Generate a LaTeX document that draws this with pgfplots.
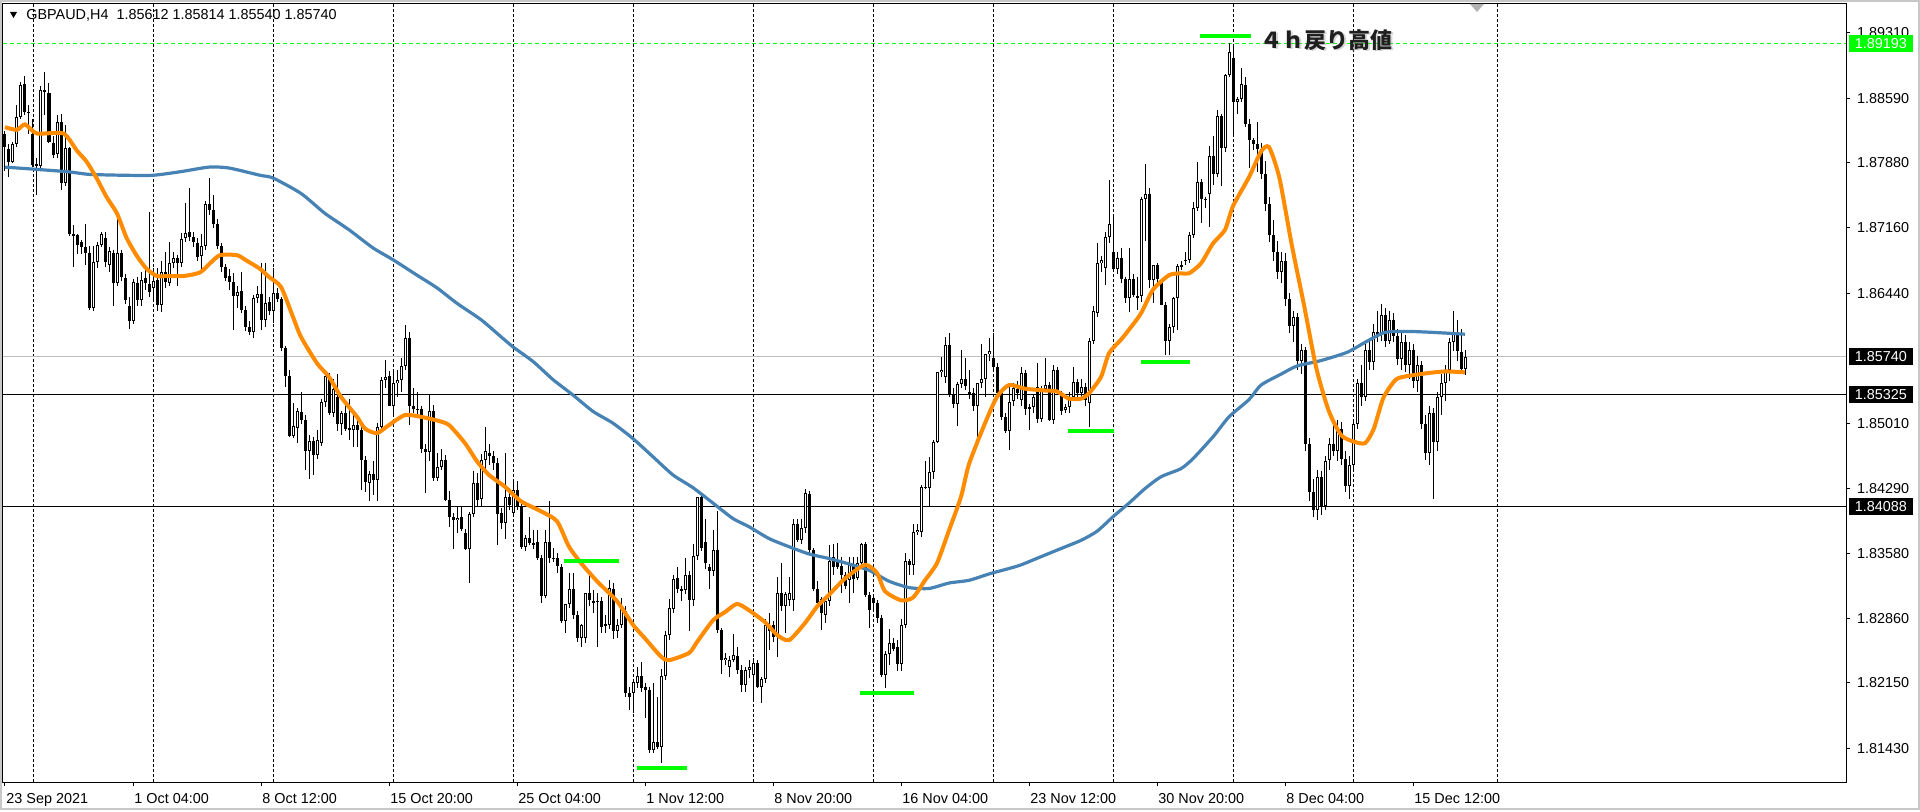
\documentclass[border=0pt]{standalone}
\usepackage{pgfplots}
\pgfplotsset{compat=1.18}
\usepackage{pgfplotstable}
\usepackage{fontspec}
\setmainfont{Liberation Sans}
\newfontfamily\cjk{Noto Sans CJK JP}
\definecolor{maorange}{HTML}{FF8C00}
\definecolor{mablue}{HTML}{4682B4}
\definecolor{mtgreen}{HTML}{00FF00}

% candles: x = bar index (4h bars), o h l c
\pgfplotstableread{
x o h l c
0 1.8820 1.8823 1.8779 1.8805
1 1.8803 1.8809 1.8772 1.8789
5 1.8874 1.8883 1.8840 1.8844
6 1.8844 1.8852 1.8819 1.8843
7 1.8820 1.8836 1.8783 1.8785
8 1.8786 1.8793 1.8752 1.8784
10 1.8868 1.8888 1.8840 1.8866
11 1.8865 1.8876 1.8809 1.8811
12 1.8810 1.8817 1.8793 1.8796
14 1.8833 1.8842 1.8758 1.8766
16 1.8804 1.8805 1.8707 1.8709
17 1.8709 1.8719 1.8673 1.8708
18 1.8708 1.8709 1.8687 1.8697
19 1.8701 1.8703 1.8687 1.8695
20 1.8695 1.8720 1.8675 1.8689
21 1.8689 1.8696 1.8626 1.8628
25 1.8705 1.8712 1.8673 1.8679
27 1.8688 1.8692 1.8630 1.8656
29 1.8688 1.8692 1.8658 1.8662
30 1.8661 1.8665 1.8632 1.8637
31 1.8630 1.8640 1.8605 1.8614
33 1.8656 1.8662 1.8630 1.8637
35 1.8661 1.8672 1.8648 1.8655
36 1.8654 1.8734 1.8640 1.8646
38 1.8659 1.8672 1.8625 1.8631
40 1.8667 1.8690 1.8650 1.8656
43 1.8683 1.8686 1.8652 1.8678
46 1.8711 1.8760 1.8702 1.8706
47 1.8706 1.8711 1.8695 1.8701
48 1.8700 1.8705 1.8680 1.8684
51 1.8742 1.8771 1.8730 1.8736
52 1.8736 1.8752 1.8716 1.8720
53 1.8720 1.8726 1.8693 1.8696
54 1.8696 1.8699 1.8668 1.8673
55 1.8673 1.8676 1.8658 1.8661
56 1.8663 1.8671 1.8648 1.8657
57 1.8657 1.8666 1.8604 1.8641
59 1.8647 1.8668 1.8622 1.8626
60 1.8626 1.8630 1.8603 1.8607
61 1.8607 1.8613 1.8598 1.8601
64 1.8643 1.8677 1.8604 1.8615
66 1.8634 1.8640 1.8620 1.8625
68 1.8645 1.8650 1.8635 1.8638
69 1.8638 1.8640 1.8580 1.8584
70 1.8584 1.8586 1.8541 1.8553
71 1.8553 1.8560 1.8486 1.8487
74 1.8513 1.8536 1.8500 1.8505
75 1.8505 1.8510 1.8449 1.8470
77 1.8481 1.8486 1.8444 1.8466
81 1.8551 1.8556 1.8510 1.8512
83 1.8530 1.8555 1.8493 1.8500
85 1.8512 1.8524 1.8492 1.8495
86 1.8495 1.8528 1.8483 1.8495
88 1.8499 1.8507 1.8475 1.8494
89 1.8494 1.8497 1.8428 1.8461
90 1.8461 1.8465 1.8425 1.8436
92 1.8445 1.8459 1.8422 1.8439
96 1.8553 1.8558 1.8520 1.8520
101 1.8595 1.8601 1.8499 1.8520
102 1.8520 1.8540 1.8512 1.8517
103 1.8517 1.8535 1.8510 1.8516
104 1.8517 1.8520 1.8468 1.8473
105 1.8473 1.8478 1.8424 1.8469
107 1.8514 1.8521 1.8437 1.8441
110 1.8461 1.8466 1.8415 1.8417
111 1.8417 1.8426 1.8387 1.8398
112 1.8398 1.8402 1.8363 1.8394
114 1.8398 1.8409 1.8382 1.8385
115 1.8380 1.8385 1.8362 1.8362
118 1.8435 1.8446 1.8409 1.8417
121 1.8468 1.8478 1.8455 1.8465
122 1.8465 1.8471 1.8450 1.8457
123 1.8457 1.8463 1.8367 1.8401
124 1.8402 1.8408 1.8385 1.8391
126 1.8420 1.8430 1.8405 1.8411
128 1.8428 1.8437 1.8405 1.8409
129 1.8409 1.8412 1.8362 1.8365
131 1.8375 1.8398 1.8367 1.8369
132 1.8369 1.8383 1.8362 1.8368
133 1.8370 1.8383 1.8350 1.8353
134 1.8353 1.8356 1.8303 1.8311
136 1.8370 1.8415 1.8347 1.8353
137 1.8353 1.8364 1.8348 1.8352
138 1.8353 1.8358 1.8336 1.8344
139 1.8343 1.8346 1.8281 1.8283
142 1.8319 1.8336 1.8286 1.8290
143 1.8290 1.8294 1.8260 1.8264
146 1.8314 1.8335 1.8300 1.8306
147 1.8305 1.8317 1.8292 1.8304
148 1.8305 1.8314 1.8255 1.8305
149 1.8305 1.8310 1.8270 1.8277
152 1.8319 1.8325 1.8263 1.8272
155 1.8294 1.8300 1.8200 1.8204
156 1.8204 1.8210 1.8185 1.8200
159 1.8223 1.8238 1.8205 1.8209
160 1.8210 1.8215 1.8176 1.8207
161 1.8207 1.8210 1.8138 1.8141
163 1.8150 1.8200 1.8142 1.8145
168 1.8330 1.8343 1.8314 1.8318
171 1.8334 1.8338 1.8272 1.8306
174 1.8420 1.8424 1.8360 1.8364
175 1.8370 1.8395 1.8340 1.8347
176 1.8343 1.8346 1.8319 1.8338
178 1.8361 1.8404 1.8270 1.8273
179 1.8273 1.8276 1.8225 1.8240
183 1.8245 1.8255 1.8225 1.8229
184 1.8229 1.8235 1.8205 1.8213
188 1.8237 1.8240 1.8209 1.8211
191 1.8279 1.8292 1.8251 1.8272
192 1.8279 1.8283 1.8260 1.8266
194 1.8314 1.8347 1.8294 1.8300
198 1.8390 1.8396 1.8370 1.8372
201 1.8423 1.8426 1.8358 1.8361
202 1.8361 1.8364 1.8316 1.8318
203 1.8318 1.8327 1.8299 1.8303
204 1.8307 1.8310 1.8273 1.8292
207 1.8354 1.8368 1.8334 1.8343
208 1.8349 1.8369 1.8340 1.8343
209 1.8344 1.8354 1.8314 1.8334
210 1.8334 1.8337 1.8318 1.8322
212 1.8345 1.8354 1.8314 1.8329
215 1.8368 1.8370 1.8310 1.8312
216 1.8312 1.8315 1.8275 1.8295
217 1.8309 1.8312 1.8295 1.8303
218 1.8303 1.8306 1.8281 1.8287
219 1.8287 1.8290 1.8222 1.8224
222 1.8259 1.8265 1.8250 1.8253
223 1.8255 1.8262 1.8228 1.8236
226 1.8349 1.8352 1.8334 1.8345
230 1.8431 1.8459 1.8428 1.8430
236 1.8587 1.8600 1.8530 1.8533
237 1.8533 1.8540 1.8518 1.8522
240 1.8550 1.8573 1.8538 1.8542
241 1.8535 1.8560 1.8528 1.8534
242 1.8534 1.8540 1.8515 1.8520
247 1.8573 1.8600 1.8560 1.8563
248 1.8563 1.8567 1.8530 1.8534
249 1.8534 1.8537 1.8505 1.8508
250 1.8508 1.8512 1.8490 1.8492
253 1.8539 1.8548 1.8528 1.8534
255 1.8556 1.8560 1.8510 1.8517
258 1.8541 1.8567 1.8501 1.8506
261 1.8543 1.8547 1.8504 1.8505
263 1.8560 1.8563 1.8535 1.8536
264 1.8532 1.8536 1.8510 1.8514
268 1.8546 1.8550 1.8530 1.8534
270 1.8541 1.8545 1.8520 1.8527
277 1.8690 1.8732 1.8670 1.8671
279 1.8683 1.8694 1.8655 1.8660
280 1.8660 1.8662 1.8633 1.8639
282 1.8660 1.8665 1.8640 1.8642
286 1.8753 1.8760 1.8650 1.8659
288 1.8675 1.8678 1.8655 1.8660
289 1.8655 1.8660 1.8631 1.8631
290 1.8631 1.8635 1.8576 1.8591
295 1.8681 1.8690 1.8675 1.8680
299 1.8767 1.8770 1.8721 1.8748
300 1.8748 1.8750 1.8738 1.8747
302 1.8795 1.8817 1.8763 1.8776
304 1.8839 1.8842 1.8762 1.8804
307 1.8903 1.8917 1.8820 1.8855
310 1.8874 1.8882 1.8827 1.8831
311 1.8831 1.8836 1.8782 1.8813
312 1.8813 1.8815 1.8802 1.8809
313 1.8808 1.8833 1.8778 1.8803
314 1.8803 1.8810 1.8770 1.8775
315 1.8775 1.8790 1.8735 1.8742
316 1.8742 1.8750 1.8700 1.8708
317 1.8708 1.8725 1.8680 1.8690
318 1.8690 1.8702 1.8660 1.8668
320 1.8680 1.8688 1.8630 1.8638
321 1.8638 1.8645 1.8600 1.8608
323 1.8618 1.8622 1.8560 1.8570
325 1.8582 1.8585 1.8470 1.8478
326 1.8478 1.8485 1.8415 1.8425
327 1.8425 1.8440 1.8398 1.8405
329 1.8442 1.8448 1.8400 1.8410
332 1.8478 1.8500 1.8465 1.8470
334 1.8495 1.8502 1.8455 1.8462
335 1.8462 1.8470 1.8425 1.8432
339 1.8545 1.8565 1.8520 1.8530
341 1.8582 1.8595 1.8560 1.8568
343 1.8602 1.8625 1.8590 1.8598
345 1.8620 1.8628 1.8585 1.8592
347 1.8615 1.8622 1.8590 1.8597
348 1.8597 1.8605 1.8565 1.8572
350 1.8590 1.8598 1.8558 1.8565
352 1.8582 1.8588 1.8540 1.8548
354 1.8565 1.8570 1.8495 1.8500
355 1.8500 1.8510 1.8460 1.8468
357 1.8512 1.8518 1.8418 1.8480
363 1.8600 1.8615 1.8570 1.8580
364 1.8580 1.8605 1.8555 1.8561
}\bear

\pgfplotstableread{
x o h l c
2 1.8789 1.8811 1.8787 1.8808
3 1.8808 1.8851 1.8805 1.8838
4 1.8838 1.8877 1.8836 1.8874
9 1.8784 1.8872 1.8781 1.8868
13 1.8797 1.8840 1.8793 1.8833
15 1.8766 1.8829 1.8762 1.8804
22 1.8628 1.8696 1.8624 1.8679
23 1.8679 1.8701 1.8672 1.8697
24 1.8697 1.8712 1.8695 1.8709
26 1.8675 1.8695 1.8668 1.8691
28 1.8656 1.8728 1.8652 1.8688
32 1.8614 1.8660 1.8610 1.8656
34 1.8637 1.8668 1.8630 1.8659
37 1.8650 1.8672 1.8638 1.8658
39 1.8631 1.8680 1.8624 1.8667
41 1.8656 1.8700 1.8652 1.8677
42 1.8677 1.8690 1.8672 1.8683
44 1.8677 1.8710 1.8673 1.8704
45 1.8705 1.8743 1.8700 1.8711
49 1.8685 1.8709 1.8671 1.8696
50 1.8696 1.8746 1.8692 1.8742
58 1.8641 1.8652 1.8628 1.8646
62 1.8601 1.8642 1.8595 1.8639
63 1.8639 1.8652 1.8633 1.8643
65 1.8615 1.8678 1.8607 1.8634
67 1.8625 1.8672 1.8611 1.8644
72 1.8487 1.8523 1.8485 1.8498
73 1.8496 1.8518 1.8479 1.8514
76 1.8470 1.8488 1.8440 1.8481
78 1.8466 1.8493 1.8462 1.8483
79 1.8479 1.8528 1.8476 1.8524
80 1.8524 1.8556 1.8519 1.8553
82 1.8512 1.8550 1.8508 1.8539
84 1.8500 1.8515 1.8488 1.8512
87 1.8494 1.8510 1.8475 1.8499
91 1.8435 1.8448 1.8415 1.8445
93 1.8439 1.8501 1.8415 1.8497
94 1.8497 1.8552 1.8494 1.8549
95 1.8549 1.8571 1.8540 1.8552
97 1.8520 1.8557 1.8510 1.8545
98 1.8545 1.8560 1.8530 1.8549
99 1.8549 1.8573 1.8535 1.8564
100 1.8564 1.8609 1.8560 1.8595
106 1.8469 1.8532 1.8459 1.8514
108 1.8441 1.8468 1.8437 1.8453
109 1.8453 1.8473 1.8450 1.8461
113 1.8394 1.8409 1.8380 1.8397
116 1.8362 1.8403 1.8325 1.8401
117 1.8401 1.8448 1.8398 1.8435
119 1.8418 1.8467 1.8410 1.8461
120 1.8461 1.8497 1.8451 1.8471
125 1.8391 1.8468 1.8374 1.8420
127 1.8402 1.8440 1.8398 1.8428
130 1.8365 1.8378 1.8360 1.8375
135 1.8311 1.8383 1.8308 1.8370
140 1.8283 1.8302 1.8270 1.8302
141 1.8302 1.8336 1.8298 1.8319
144 1.8264 1.8280 1.8255 1.8279
145 1.8265 1.8314 1.8259 1.8314
150 1.8278 1.8290 1.8270 1.8280
151 1.8279 1.8328 1.8275 1.8319
153 1.8272 1.8285 1.8265 1.8279
154 1.8279 1.8308 1.8275 1.8297
157 1.8204 1.8218 1.8182 1.8216
158 1.8215 1.8233 1.8210 1.8223
162 1.8141 1.8215 1.8138 1.8150
164 1.8145 1.8230 1.8127 1.8223
165 1.8223 1.8272 1.8218 1.8268
166 1.8268 1.8308 1.8262 1.8297
167 1.8297 1.8334 1.8292 1.8330
169 1.8317 1.8322 1.8305 1.8318
170 1.8317 1.8353 1.8313 1.8334
172 1.8306 1.8368 1.8300 1.8355
173 1.8355 1.8420 1.8350 1.8420
177 1.8338 1.8383 1.8333 1.8361
180 1.8240 1.8248 1.8235 1.8243
181 1.8233 1.8245 1.8222 1.8240
182 1.8240 1.8269 1.8238 1.8246
185 1.8213 1.8233 1.8205 1.8229
186 1.8229 1.8240 1.8220 1.8233
187 1.8224 1.8242 1.8197 1.8237
189 1.8211 1.8222 1.8193 1.8219
190 1.8219 1.8285 1.8215 1.8279
193 1.8266 1.8332 1.8244 1.8314
195 1.8300 1.8315 1.8270 1.8313
196 1.8306 1.8332 1.8300 1.8314
197 1.8306 1.8396 1.8294 1.8390
199 1.8372 1.8396 1.8368 1.8386
200 1.8386 1.8428 1.8380 1.8424
205 1.8290 1.8305 1.8281 1.8305
206 1.8305 1.8367 1.8300 1.8349
211 1.8328 1.8354 1.8303 1.8345
213 1.8330 1.8354 1.8328 1.8347
214 1.8347 1.8369 1.8340 1.8368
220 1.8224 1.8250 1.8209 1.8247
221 1.8247 1.8275 1.8235 1.8259
224 1.8236 1.8285 1.8228 1.8279
225 1.8279 1.8358 1.8275 1.8349
227 1.8345 1.8390 1.8334 1.8381
228 1.8381 1.8390 1.8378 1.8384
229 1.8381 1.8433 1.8376 1.8431
231 1.8430 1.8464 1.8409 1.8447
232 1.8447 1.8483 1.8440 1.8480
233 1.8480 1.8557 1.8479 1.8557
234 1.8557 1.8574 1.8552 1.8560
235 1.8552 1.8596 1.8545 1.8587
238 1.8522 1.8546 1.8498 1.8544
239 1.8544 1.8582 1.8540 1.8550
243 1.8520 1.8545 1.8486 1.8545
244 1.8545 1.8588 1.8540 1.8550
245 1.8550 1.8577 1.8530 1.8577
246 1.8577 1.8595 1.8570 1.8580
251 1.8492 1.8545 1.8472 1.8524
252 1.8525 1.8545 1.8520 1.8540
254 1.8527 1.8563 1.8520 1.8556
256 1.8517 1.8522 1.8494 1.8519
257 1.8519 1.8532 1.8512 1.8530
259 1.8506 1.8542 1.8502 1.8539
260 1.8539 1.8573 1.8535 1.8543
262 1.8505 1.8565 1.8500 1.8560
265 1.8516 1.8522 1.8512 1.8519
266 1.8519 1.8535 1.8512 1.8530
267 1.8530 1.8563 1.8527 1.8547
269 1.8534 1.8550 1.8527 1.8541
271 1.8523 1.8595 1.8497 1.8591
272 1.8591 1.8630 1.8588 1.8624
273 1.8622 1.8700 1.8618 1.8677
274 1.8677 1.8685 1.8668 1.8681
275 1.8672 1.8712 1.8653 1.8706
276 1.8706 1.8769 1.8700 1.8720
278 1.8671 1.8690 1.8665 1.8683
281 1.8639 1.8694 1.8624 1.8660
283 1.8639 1.8662 1.8626 1.8641
284 1.8641 1.8750 1.8635 1.8748
285 1.8748 1.8787 1.8702 1.8754
287 1.8659 1.8675 1.8633 1.8675
291 1.8591 1.8610 1.8576 1.8607
292 1.8607 1.8640 1.8600 1.8639
293 1.8639 1.8676 1.8604 1.8674
294 1.8673 1.8680 1.8670 1.8675
296 1.8681 1.8712 1.8678 1.8708
297 1.8708 1.8745 1.8705 1.8738
298 1.8738 1.8789 1.8735 1.8767
301 1.8753 1.8806 1.8717 1.8795
303 1.8776 1.8846 1.8772 1.8839
305 1.8804 1.8886 1.8800 1.8884
306 1.8884 1.89193 1.8882 1.8910
308 1.8855 1.8860 1.8842 1.8858
309 1.8858 1.8892 1.8855 1.8874
319 1.8668 1.8690 1.8655 1.8680
322 1.8608 1.8625 1.8590 1.8618
324 1.8570 1.8588 1.8555 1.8582
328 1.8405 1.8450 1.8395 1.8442
330 1.8410 1.8465 1.8405 1.8460
331 1.8460 1.8485 1.8450 1.8478
333 1.8470 1.8505 1.8460 1.8495
336 1.8432 1.8465 1.8418 1.8455
337 1.8455 1.8505 1.8450 1.8500
338 1.8500 1.8550 1.8495 1.8545
340 1.8530 1.8590 1.8525 1.8582
342 1.8568 1.8610 1.8560 1.8602
344 1.8598 1.8632 1.8592 1.8620
346 1.8592 1.8625 1.8588 1.8615
349 1.8572 1.8600 1.8560 1.8590
351 1.8565 1.8590 1.8550 1.8582
353 1.8548 1.8575 1.8535 1.8565
356 1.8468 1.8520 1.8455 1.8512
358 1.8480 1.8535 1.8470 1.8530
359 1.8530 1.8555 1.8510 1.8545
360 1.8545 1.8565 1.8525 1.8560
361 1.8560 1.8595 1.8548 1.8590
362 1.8590 1.8624 1.8580 1.8600
365 1.85612 1.85814 1.85540 1.85740
}\bull

\pgfplotsset{
  wick/.style={draw=none, mark=none, forget plot,
    error bars/.cd, y dir=both, y explicit, error mark=none,
    error bar style={draw=black, solid, line width=0.5pt}},
  body/.style={draw=none, mark=none, forget plot,
    error bars/.cd, y dir=both, y explicit, error mark=none,
    error bar style={draw=black, solid, line width=1.5pt}},
  hollow/.style={draw=none, mark=none, forget plot,
    error bars/.cd, y dir=both, y explicit, error mark=none,
    error bar style={draw=white, solid, line width=0.5pt}},
}

\begin{document}
\begin{tikzpicture}
\useasboundingbox (0,0) rectangle (960pt,405.5pt);
\fill[white] (0,0) rectangle (960pt,405.5pt);
\begin{axis}[
  at={(1.5pt,14.5pt)}, anchor=south west,
  scale only axis, width=921.5pt, height=389pt,
  xmin=-0.5, xmax=460.25, ymin=1.81059, ymax=1.89626,
  axis line style={black, line width=0.5pt},
  tick align=outside, major tick length=2pt,
  tick style={black, line width=0.5pt},
  xtick pos=bottom, ytick pos=right, yticklabel pos=right,
  xtick={0,32,64,96,128,160,192,224,256,288,320,352},
  xticklabels={23 Sep 2021, 1 Oct 04:00, 8 Oct 12:00, 15 Oct 20:00, 25 Oct 04:00, 1 Nov 12:00, 8 Nov 20:00, 16 Nov 04:00, 23 Nov 12:00, 30 Nov 20:00, 8 Dec 04:00, 15 Dec 12:00},
  ytick={1.81430,1.82150,1.82860,1.83580,1.84290,1.85010,1.86440,1.87160,1.87880,1.88590,1.89310},
  yticklabels={1.81430,1.82150,1.82860,1.83580,1.84290,1.85010,1.86440,1.87160,1.87880,1.88590,1.89310},
  ticklabel style={font=\fontsize{7.2}{8.6}\selectfont, black},
  xticklabel style={anchor=north west, inner xsep=0.5pt},
  yticklabel style={anchor=west},
  extra x ticks={7.075,37.075,67.075,97.075,127.075,157.075,187.075,217.075,247.075,277.075,307.075,337.075,373.2},
  extra x tick labels={},
  extra x tick style={grid=major, major tick length=0pt},
  major grid style={black, line width=0.5pt, dash pattern=on 1.5pt off 1pt},
  clip=true,
]
% horizontal levels
\addplot [forget plot, black!25, line width=0.5pt] coordinates {(-0.5,1.85740) (460.25,1.85740)};
\addplot [forget plot, black, line width=0.5pt] coordinates {(-0.5,1.85325) (460.25,1.85325)};
\addplot [forget plot, black, line width=0.5pt] coordinates {(-0.5,1.84088) (460.25,1.84088)};
\addplot [forget plot, mtgreen, line width=0.5pt, dash pattern=on 2pt off 1.5pt] coordinates {(-0.5,1.89193) (460.25,1.89193)};

% wicks
\addplot [wick] table [x=x, y expr={(\thisrow{h}+\thisrow{l})/2}, y error expr={(\thisrow{h}-\thisrow{l})/2}] {\bear};
\addplot [wick] table [x=x, y expr={(\thisrow{h}+\thisrow{l})/2}, y error expr={(\thisrow{h}-\thisrow{l})/2}] {\bull};
% bodies
\addplot [body] table [x=x, y expr={(\thisrow{o}+\thisrow{c})/2}, y error expr={max(abs(\thisrow{c}-\thisrow{o})/2,0.00006)}] {\bear};
\addplot [body] table [x=x, y expr={(\thisrow{o}+\thisrow{c})/2}, y error expr={max(abs(\thisrow{c}-\thisrow{o})/2,0.00006)}] {\bull};
\addplot [hollow] table [x=x, y expr={(\thisrow{o}+\thisrow{c})/2}, y error expr={max((\thisrow{c}-\thisrow{o})/2-0.00011,0)}] {\bull};

% long moving average (blue)
\addplot [mablue, line width=1.6pt, smooth, tension=0.4] coordinates {
(0,1.8783) (15.4,1.8778) (21,1.8775) (30,1.8774) (37,1.8774) (44,1.8778) (51,1.8783) (56,1.8782) (63.75,1.8774)
(67,1.8771) (74,1.8754) (80,1.8732) (86,1.8714) (92,1.8694) (97,1.8681) (103,1.8664) (108,1.8650) (113,1.8633)
(119,1.8615) (123,1.8600) (127,1.8585) (132,1.8569) (137,1.8549) (142,1.8532) (147,1.8514) (152,1.8501)
(157,1.8484) (162,1.8464) (167,1.8444) (172,1.8430) (177,1.8413) (182,1.8396) (186,1.8387) (191,1.8374)
(196,1.8365) (201,1.8357) (206,1.8352) (211,1.8346) (216,1.8339) (221,1.8327) (226,1.8320) (231,1.8319)
(236,1.8325) (241,1.8328) (246,1.8335) (251,1.8341) (254,1.8345) (259,1.8354) (264,1.8363) (269,1.8372)
(273,1.8382) (277,1.8398) (281,1.8413) (285,1.8429) (289,1.8442) (294,1.8451) (297,1.8462) (302,1.8486)
(306,1.8508) (311,1.8527) (314,1.8543) (319,1.8555) (323,1.8564) (329,1.8570) (335.5,1.8579) (340,1.8590)
(345,1.8601) (351,1.8602) (357,1.8601) (365,1.8599)};

% short moving average (orange)
\addplot [maorange, line width=2pt, smooth, tension=0.4] coordinates {
(0,1.8827) (3,1.8824) (5,1.8830) (8,1.8820) (14.6,1.8820) (18,1.8801) (20.4,1.8789) (23,1.8770) (25.4,1.8750)
(28,1.8732) (30.4,1.8705) (33,1.8685) (35.4,1.8671) (38,1.8663) (40.4,1.8663) (44.6,1.8663) (48.75,1.8667)
(51.25,1.8677) (53.75,1.8686) (58,1.8686) (60.4,1.8680) (63.75,1.8671) (66,1.8662) (69,1.8651) (72,1.8618)
(74,1.8596) (78,1.8567) (81,1.8552) (84,1.8530) (88,1.8508) (90,1.8495) (93,1.8490) (96,1.8499) (100,1.8510)
(104,1.8508) (108,1.8504) (111,1.8499) (115,1.8479) (118,1.8459) (121,1.8444) (125,1.8431) (129,1.8415)
(134,1.8404) (138,1.8393) (141,1.8365) (144,1.8347) (148,1.8327) (153,1.8305) (157,1.8279) (160,1.8264)
(164,1.8244) (166,1.8240) (171,1.8248) (173,1.8260) (177,1.8284) (180,1.8293) (183,1.8302) (186,1.8295)
(190,1.8282) (193,1.8268) (196,1.8262) (200,1.8281) (203,1.8299) (206,1.8312) (210,1.8330) (215,1.8345)
(218,1.8336) (220,1.8316) (224,1.8306) (227,1.8309) (230,1.8328) (233,1.8347) (236,1.8383) (239,1.8420)
(241,1.8456) (245,1.8501) (248,1.8530) (251,1.8543) (255,1.8539) (260,1.8537) (263,1.8536) (266,1.8528)
(269,1.8528) (271,1.8534) (274,1.8552) (276,1.8578) (279,1.8593) (281,1.8604) (284,1.8622) (287,1.8648)
(291,1.8664) (294,1.8666) (296,1.8666) (299,1.8677) (302,1.8699) (305,1.8714) (307,1.8740) (311,1.8772)
(314,1.8800) (316,1.8805) (318.6,1.8771) (321.7,1.8697) (324.8,1.8630) (327.8,1.8562) (330.9,1.8515)
(334,1.8488) (337,1.8481) (340,1.8479) (342.2,1.8495) (344.6,1.8529) (347.7,1.8549) (350.8,1.8553)
(355.4,1.8556) (360,1.8558) (365,1.8557)};

% green marker segments
\addplot [forget plot, mtgreen, line width=2pt] coordinates {(298.75,1.89274) (311.4,1.89274)};
\addplot [forget plot, mtgreen, line width=2pt] coordinates {(139.75,1.83492) (153.4,1.83492)};
\addplot [forget plot, mtgreen, line width=2pt] coordinates {(157.9,1.81216) (170.4,1.81216)};
\addplot [forget plot, mtgreen, line width=2pt] coordinates {(213.8,1.82036) (227.3,1.82036)};
\addplot [forget plot, mtgreen, line width=2pt] coordinates {(265.75,1.84924) (277.3,1.84924)};
\addplot [forget plot, mtgreen, line width=2pt] coordinates {(283.9,1.85687) (296.3,1.85687)};

\coordinate (b1) at (axis cs:460.25,1.89193);
\coordinate (b2) at (axis cs:460.25,1.85740);
\coordinate (b3) at (axis cs:460.25,1.85325);
\coordinate (b4) at (axis cs:460.25,1.84088);
\end{axis}

% price boxes on the right scale
\tikzset{pbox/.style={anchor=west, inner xsep=3pt, inner ysep=0pt, minimum height=8.5pt, text=white, font=\fontsize{7.2}{8.6}\selectfont}}
\node[pbox, fill=mtgreen] at ([xshift=1.25pt]b1) {1.89193};
\node[pbox, fill=black] at ([xshift=1.25pt]b2) {1.85740};
\node[pbox, fill=black] at ([xshift=1.25pt]b3) {1.85325};
\node[pbox, fill=black] at ([xshift=1.25pt]b4) {1.84088};

% title
\fill[black] (5pt,399.5pt) -- (8.5pt,399.5pt) -- (6.75pt,396.5pt) -- cycle;
\node[anchor=west, inner sep=0pt, font=\fontsize{7.2}{8.6}\selectfont] at (13pt,397.7pt) {GBPAUD,H4\ \ 1.85612 1.85814 1.85540 1.85740};

% shift marker
\fill[black!30] (735pt,403.5pt) -- (742pt,403.5pt) -- (738.5pt,399.5pt) -- cycle;

% annotation
\node[anchor=west, inner sep=0pt, font=\cjk\bfseries\fontsize{11}{12}\selectfont, text=black!40, opacity=0.4] at (631pt,384.7pt) {４ｈ戻り高値};
\node[anchor=west, inner sep=0pt, font=\cjk\bfseries\fontsize{11}{12}\selectfont, text=black!88] at (630pt,385.5pt) {４ｈ戻り高値};

% outer frame
\draw[black!22, line width=1pt] (0.5pt,1.25pt) rectangle (959.25pt,405pt);
\end{tikzpicture}
\end{document}
